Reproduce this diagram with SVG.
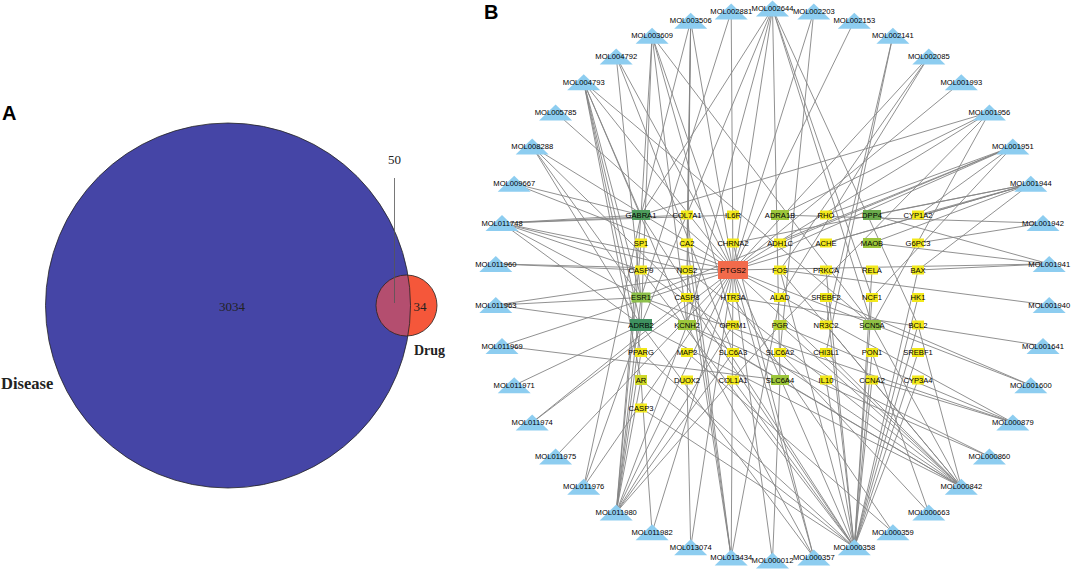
<svg xmlns="http://www.w3.org/2000/svg" xmlns:xlink="http://www.w3.org/1999/xlink" width="1072" height="570" viewBox="0 0 1072 570">
<style>
.lbl{font-family:"Liberation Sans",Arial,sans-serif;font-size:7.6px;fill:#000;text-anchor:middle}
.edges line{stroke:#858585;stroke-width:0.9}
.y{fill:#F2E81C}
.yg{fill:#9CC63C}
.dg{fill:#4E9C5C}
.tm{font-family:"Liberation Serif","Times New Roman",serif;fill:#222}
.pl{font-family:"Liberation Sans",Arial,sans-serif;font-weight:bold;font-size:20px;fill:#000}
</style>
<defs>
<path id="tri" d="M0 -8L16.5 8H-16.5Z" fill="#8DCDF0"/>
<clipPath id="bigc"><circle cx="228" cy="305.5" r="182.5"/></clipPath>
</defs>
<rect width="1072" height="570" fill="#fff"/>

<!-- Panel A -->
<g id="panelA">
<text class="pl" x="2" y="120">A</text>
<g id="disease"><circle cx="228" cy="305.5" r="182.5" fill="#4545A6"/></g>
<g id="drug">
<circle cx="406.5" cy="305.5" r="30.5" fill="#F5573A"/>
<circle cx="406.5" cy="305.5" r="30.5" fill="#B44E6F" clip-path="url(#bigc)"/>
<circle cx="228" cy="305.5" r="182.5" fill="none" stroke="#222" stroke-width="0.8"/>
<circle cx="406.5" cy="305.5" r="30.5" fill="none" stroke="#222" stroke-width="0.8"/>
</g>
<line x1="394.5" y1="178" x2="394.5" y2="303" stroke="#555" stroke-width="0.8"/>
<text class="tm" x="394.5" y="164" font-size="13" text-anchor="middle">50</text>
<text class="tm" x="232" y="311" font-size="13" text-anchor="middle">3034</text>
<text class="tm" x="420" y="311" font-size="13" text-anchor="middle">34</text>
<text class="tm" x="414" y="355" font-size="14" font-weight="bold">Drug</text>
<text class="tm" x="1" y="389" font-size="16.5" font-weight="bold">Disease</text>
</g>

<!-- Panel B -->
<text class="pl" x="484" y="19">B</text>
<g class="edges" id="edges">
<line x1="772.5" y1="8.5" x2="641" y2="215"/>
<line x1="772.5" y1="8.5" x2="641" y2="325"/>
<line x1="772.5" y1="8.5" x2="687" y2="325"/>
<line x1="772.5" y1="8.5" x2="733" y2="270"/>
<line x1="772.5" y1="8.5" x2="780" y2="380"/>
<line x1="772.5" y1="8.5" x2="872" y2="325"/>
<line x1="772.5" y1="8.5" x2="872" y2="297.5"/>
<line x1="772.5" y1="8.5" x2="918" y2="325"/>
<line x1="813.8" y1="11.6" x2="733" y2="270"/>
<line x1="813.8" y1="11.6" x2="780" y2="352.5"/>
<line x1="854.3" y1="20.8" x2="733" y2="270"/>
<line x1="892.9" y1="35.8" x2="826" y2="325"/>
<line x1="892.9" y1="35.8" x2="826" y2="352.5"/>
<line x1="928.8" y1="56.5" x2="733" y2="270"/>
<line x1="928.8" y1="56.5" x2="780" y2="270"/>
<line x1="928.8" y1="56.5" x2="780" y2="297.5"/>
<line x1="961.3" y1="82.2" x2="733" y2="270"/>
<line x1="989.4" y1="112.4" x2="733" y2="270"/>
<line x1="989.4" y1="112.4" x2="641" y2="215"/>
<line x1="989.4" y1="112.4" x2="780" y2="215"/>
<line x1="989.4" y1="112.4" x2="780" y2="325"/>
<line x1="989.4" y1="112.4" x2="872" y2="325"/>
<line x1="1012.8" y1="146.5" x2="733" y2="270"/>
<line x1="1012.8" y1="146.5" x2="826" y2="215"/>
<line x1="1012.8" y1="146.5" x2="780" y2="243"/>
<line x1="1012.8" y1="146.5" x2="641" y2="297.5"/>
<line x1="1012.8" y1="146.5" x2="872" y2="297.5"/>
<line x1="1012.8" y1="146.5" x2="918" y2="215"/>
<line x1="1030.8" y1="183.7" x2="733" y2="270"/>
<line x1="1030.8" y1="183.7" x2="872" y2="215"/>
<line x1="1030.8" y1="183.7" x2="872" y2="243"/>
<line x1="1030.8" y1="183.7" x2="733" y2="243"/>
<line x1="1030.8" y1="183.7" x2="826" y2="243"/>
<line x1="1030.8" y1="183.7" x2="918" y2="270"/>
<line x1="1030.8" y1="183.7" x2="918" y2="215"/>
<line x1="1043" y1="223.1" x2="918" y2="243"/>
<line x1="1043" y1="223.1" x2="780" y2="215"/>
<line x1="1049.2" y1="263.9" x2="872" y2="243"/>
<line x1="1049.2" y1="263.9" x2="872" y2="215"/>
<line x1="1049.2" y1="263.9" x2="918" y2="270"/>
<line x1="1049.2" y1="263.9" x2="733" y2="270"/>
<line x1="1049.2" y1="305.1" x2="780" y2="270"/>
<line x1="1043" y1="345.9" x2="733" y2="297.5"/>
<line x1="1030.8" y1="385.3" x2="733" y2="270"/>
<line x1="1030.8" y1="385.3" x2="826" y2="297.5"/>
<line x1="1012.8" y1="422.5" x2="733" y2="270"/>
<line x1="1012.8" y1="422.5" x2="641" y2="297.5"/>
<line x1="1012.8" y1="422.5" x2="780" y2="325"/>
<line x1="1012.8" y1="422.5" x2="872" y2="380"/>
<line x1="989.4" y1="456.6" x2="687" y2="325"/>
<line x1="989.4" y1="456.6" x2="780" y2="352.5"/>
<line x1="961.3" y1="486.8" x2="733" y2="270"/>
<line x1="961.3" y1="486.8" x2="641" y2="297.5"/>
<line x1="961.3" y1="486.8" x2="641" y2="325"/>
<line x1="961.3" y1="486.8" x2="687" y2="270"/>
<line x1="961.3" y1="486.8" x2="780" y2="270"/>
<line x1="961.3" y1="486.8" x2="780" y2="325"/>
<line x1="961.3" y1="486.8" x2="733" y2="352.5"/>
<line x1="961.3" y1="486.8" x2="826" y2="325"/>
<line x1="961.3" y1="486.8" x2="826" y2="352.5"/>
<line x1="961.3" y1="486.8" x2="918" y2="325"/>
<line x1="961.3" y1="486.8" x2="872" y2="325"/>
<line x1="961.3" y1="486.8" x2="641" y2="270"/>
<line x1="928.8" y1="512.5" x2="780" y2="352.5"/>
<line x1="928.8" y1="512.5" x2="872" y2="352.5"/>
<line x1="892.9" y1="532.2" x2="687" y2="352.5"/>
<line x1="892.9" y1="532.2" x2="733" y2="297.5"/>
<line x1="854.3" y1="547.2" x2="733" y2="270"/>
<line x1="854.3" y1="547.2" x2="641" y2="215"/>
<line x1="854.3" y1="547.2" x2="641" y2="408"/>
<line x1="854.3" y1="547.2" x2="641" y2="380"/>
<line x1="854.3" y1="547.2" x2="641" y2="352.5"/>
<line x1="854.3" y1="547.2" x2="918" y2="270"/>
<line x1="854.3" y1="547.2" x2="918" y2="325"/>
<line x1="854.3" y1="547.2" x2="687" y2="297.5"/>
<line x1="854.3" y1="547.2" x2="641" y2="270"/>
<line x1="854.3" y1="547.2" x2="780" y2="270"/>
<line x1="854.3" y1="547.2" x2="872" y2="270"/>
<line x1="854.3" y1="547.2" x2="826" y2="270"/>
<line x1="854.3" y1="547.2" x2="826" y2="380"/>
<line x1="854.3" y1="547.2" x2="872" y2="380"/>
<line x1="854.3" y1="547.2" x2="918" y2="352.5"/>
<line x1="854.3" y1="547.2" x2="826" y2="297.5"/>
<line x1="854.3" y1="547.2" x2="872" y2="297.5"/>
<line x1="854.3" y1="547.2" x2="918" y2="297.5"/>
<line x1="854.3" y1="547.2" x2="918" y2="380"/>
<line x1="854.3" y1="547.2" x2="872" y2="352.5"/>
<line x1="854.3" y1="547.2" x2="733" y2="380"/>
<line x1="813.8" y1="557.4" x2="733" y2="270"/>
<line x1="813.8" y1="557.4" x2="641" y2="325"/>
<line x1="813.8" y1="557.4" x2="687" y2="325"/>
<line x1="813.8" y1="557.4" x2="733" y2="243"/>
<line x1="772.5" y1="560.5" x2="733" y2="270"/>
<line x1="772.5" y1="560.5" x2="780" y2="380"/>
<line x1="731.2" y1="557.4" x2="733" y2="270"/>
<line x1="731.2" y1="557.4" x2="687" y2="270"/>
<line x1="731.2" y1="557.4" x2="687" y2="215"/>
<line x1="731.2" y1="557.4" x2="780" y2="297.5"/>
<line x1="731.2" y1="557.4" x2="687" y2="243"/>
<line x1="690.7" y1="547.2" x2="733" y2="270"/>
<line x1="690.7" y1="547.2" x2="687" y2="380"/>
<line x1="652.1" y1="532.2" x2="641" y2="380"/>
<line x1="652.1" y1="532.2" x2="733" y2="270"/>
<line x1="616.2" y1="512.5" x2="733" y2="270"/>
<line x1="616.2" y1="512.5" x2="641" y2="325"/>
<line x1="616.2" y1="512.5" x2="641" y2="297.5"/>
<line x1="616.2" y1="512.5" x2="641" y2="215"/>
<line x1="616.2" y1="512.5" x2="641" y2="380"/>
<line x1="616.2" y1="512.5" x2="641" y2="352.5"/>
<line x1="616.2" y1="512.5" x2="733" y2="352.5"/>
<line x1="616.2" y1="512.5" x2="641" y2="243"/>
<line x1="616.2" y1="512.5" x2="687" y2="325"/>
<line x1="616.2" y1="512.5" x2="733" y2="325"/>
<line x1="616.2" y1="512.5" x2="780" y2="325"/>
<line x1="583.7" y1="486.8" x2="641" y2="325"/>
<line x1="583.7" y1="486.8" x2="641" y2="215"/>
<line x1="583.7" y1="486.8" x2="733" y2="270"/>
<line x1="555.6" y1="456.6" x2="733" y2="270"/>
<line x1="532.2" y1="422.5" x2="733" y2="270"/>
<line x1="532.2" y1="422.5" x2="687" y2="297.5"/>
<line x1="514.2" y1="385.3" x2="641" y2="325"/>
<line x1="502" y1="345.9" x2="733" y2="270"/>
<line x1="502" y1="345.9" x2="780" y2="380"/>
<line x1="495.8" y1="305.1" x2="641" y2="297.5"/>
<line x1="495.8" y1="305.1" x2="641" y2="325"/>
<line x1="495.8" y1="305.1" x2="733" y2="270"/>
<line x1="495.8" y1="263.9" x2="641" y2="270"/>
<line x1="495.8" y1="263.9" x2="733" y2="270"/>
<line x1="502" y1="223.1" x2="641" y2="215"/>
<line x1="502" y1="223.1" x2="687" y2="215"/>
<line x1="502" y1="223.1" x2="641" y2="270"/>
<line x1="502" y1="223.1" x2="641" y2="297.5"/>
<line x1="502" y1="223.1" x2="641" y2="325"/>
<line x1="502" y1="223.1" x2="687" y2="270"/>
<line x1="502" y1="223.1" x2="733" y2="270"/>
<line x1="502" y1="223.1" x2="733" y2="215"/>
<line x1="514.2" y1="183.7" x2="641" y2="215"/>
<line x1="514.2" y1="183.7" x2="733" y2="270"/>
<line x1="532.2" y1="146.5" x2="641" y2="297.5"/>
<line x1="532.2" y1="146.5" x2="641" y2="325"/>
<line x1="532.2" y1="146.5" x2="733" y2="270"/>
<line x1="532.2" y1="146.5" x2="687" y2="297.5"/>
<line x1="555.6" y1="112.4" x2="733" y2="270"/>
<line x1="583.7" y1="82.2" x2="733" y2="270"/>
<line x1="583.7" y1="82.2" x2="641" y2="325"/>
<line x1="583.7" y1="82.2" x2="641" y2="297.5"/>
<line x1="583.7" y1="82.2" x2="641" y2="215"/>
<line x1="583.7" y1="82.2" x2="641" y2="352.5"/>
<line x1="583.7" y1="82.2" x2="641" y2="380"/>
<line x1="583.7" y1="82.2" x2="687" y2="325"/>
<line x1="583.7" y1="82.2" x2="872" y2="325"/>
<line x1="616.2" y1="56.5" x2="641" y2="297.5"/>
<line x1="616.2" y1="56.5" x2="733" y2="270"/>
<line x1="616.2" y1="56.5" x2="733" y2="352.5"/>
<line x1="652.1" y1="35.8" x2="641" y2="215"/>
<line x1="652.1" y1="35.8" x2="641" y2="325"/>
<line x1="652.1" y1="35.8" x2="733" y2="270"/>
<line x1="652.1" y1="35.8" x2="687" y2="325"/>
<line x1="652.1" y1="35.8" x2="872" y2="325"/>
<line x1="652.1" y1="35.8" x2="733" y2="325"/>
<line x1="690.7" y1="20.8" x2="733" y2="270"/>
<line x1="690.7" y1="20.8" x2="687" y2="270"/>
<line x1="690.7" y1="20.8" x2="687" y2="325"/>
<line x1="690.7" y1="20.8" x2="641" y2="215"/>
<line x1="690.7" y1="20.8" x2="687" y2="243"/>
<line x1="731.2" y1="11.6" x2="733" y2="270"/>
<line x1="731.2" y1="11.6" x2="641" y2="297.5"/>
</g>

<g id="molecules">
<g id="MOL002644" transform="translate(772.5,8.5)"><use href="#tri"/><text class="lbl" y="2.6">MOL002644</text></g>
<g id="MOL002203" transform="translate(813.8,11.6)"><use href="#tri"/><text class="lbl" y="2.6">MOL002203</text></g>
<g id="MOL002153" transform="translate(854.3,20.8)"><use href="#tri"/><text class="lbl" y="2.6">MOL002153</text></g>
<g id="MOL002141" transform="translate(892.9,35.8)"><use href="#tri"/><text class="lbl" y="2.6">MOL002141</text></g>
<g id="MOL002085" transform="translate(928.8,56.5)"><use href="#tri"/><text class="lbl" y="2.6">MOL002085</text></g>
<g id="MOL001993" transform="translate(961.3,82.2)"><use href="#tri"/><text class="lbl" y="2.6">MOL001993</text></g>
<g id="MOL001956" transform="translate(989.4,112.4)"><use href="#tri"/><text class="lbl" y="2.6">MOL001956</text></g>
<g id="MOL001951" transform="translate(1012.8,146.5)"><use href="#tri"/><text class="lbl" y="2.6">MOL001951</text></g>
<g id="MOL001944" transform="translate(1030.8,183.7)"><use href="#tri"/><text class="lbl" y="2.6">MOL001944</text></g>
<g id="MOL001942" transform="translate(1043,223.1)"><use href="#tri"/><text class="lbl" y="2.6">MOL001942</text></g>
<g id="MOL001941" transform="translate(1049.2,263.9)"><use href="#tri"/><text class="lbl" y="2.6">MOL001941</text></g>
<g id="MOL001940" transform="translate(1049.2,305.1)"><use href="#tri"/><text class="lbl" y="2.6">MOL001940</text></g>
<g id="MOL001641" transform="translate(1043,345.9)"><use href="#tri"/><text class="lbl" y="2.6">MOL001641</text></g>
<g id="MOL001600" transform="translate(1030.8,385.3)"><use href="#tri"/><text class="lbl" y="2.6">MOL001600</text></g>
<g id="MOL000879" transform="translate(1012.8,422.5)"><use href="#tri"/><text class="lbl" y="2.6">MOL000879</text></g>
<g id="MOL000860" transform="translate(989.4,456.6)"><use href="#tri"/><text class="lbl" y="2.6">MOL000860</text></g>
<g id="MOL000842" transform="translate(961.3,486.8)"><use href="#tri"/><text class="lbl" y="2.6">MOL000842</text></g>
<g id="MOL000663" transform="translate(928.8,512.5)"><use href="#tri"/><text class="lbl" y="2.6">MOL000663</text></g>
<g id="MOL000359" transform="translate(892.9,532.2)"><use href="#tri"/><text class="lbl" y="2.6">MOL000359</text></g>
<g id="MOL000358" transform="translate(854.3,547.2)"><use href="#tri"/><text class="lbl" y="2.6">MOL000358</text></g>
<g id="MOL000357" transform="translate(813.8,557.4)"><use href="#tri"/><text class="lbl" y="2.6">MOL000357</text></g>
<g id="MOL000012" transform="translate(772.5,560.5)"><use href="#tri"/><text class="lbl" y="2.6">MOL000012</text></g>
<g id="MOL013434" transform="translate(731.2,557.4)"><use href="#tri"/><text class="lbl" y="2.6">MOL013434</text></g>
<g id="MOL013074" transform="translate(690.7,547.2)"><use href="#tri"/><text class="lbl" y="2.6">MOL013074</text></g>
<g id="MOL011982" transform="translate(652.1,532.2)"><use href="#tri"/><text class="lbl" y="2.6">MOL011982</text></g>
<g id="MOL011980" transform="translate(616.2,512.5)"><use href="#tri"/><text class="lbl" y="2.6">MOL011980</text></g>
<g id="MOL011976" transform="translate(583.7,486.8)"><use href="#tri"/><text class="lbl" y="2.6">MOL011976</text></g>
<g id="MOL011975" transform="translate(555.6,456.6)"><use href="#tri"/><text class="lbl" y="2.6">MOL011975</text></g>
<g id="MOL011974" transform="translate(532.2,422.5)"><use href="#tri"/><text class="lbl" y="2.6">MOL011974</text></g>
<g id="MOL011971" transform="translate(514.2,385.3)"><use href="#tri"/><text class="lbl" y="2.6">MOL011971</text></g>
<g id="MOL011969" transform="translate(502,345.9)"><use href="#tri"/><text class="lbl" y="2.6">MOL011969</text></g>
<g id="MOL011963" transform="translate(495.8,305.1)"><use href="#tri"/><text class="lbl" y="2.6">MOL011963</text></g>
<g id="MOL011960" transform="translate(495.8,263.9)"><use href="#tri"/><text class="lbl" y="2.6">MOL011960</text></g>
<g id="MOL011748" transform="translate(502,223.1)"><use href="#tri"/><text class="lbl" y="2.6">MOL011748</text></g>
<g id="MOL009667" transform="translate(514.2,183.7)"><use href="#tri"/><text class="lbl" y="2.6">MOL009667</text></g>
<g id="MOL008288" transform="translate(532.2,146.5)"><use href="#tri"/><text class="lbl" y="2.6">MOL008288</text></g>
<g id="MOL005785" transform="translate(555.6,112.4)"><use href="#tri"/><text class="lbl" y="2.6">MOL005785</text></g>
<g id="MOL004793" transform="translate(583.7,82.2)"><use href="#tri"/><text class="lbl" y="2.6">MOL004793</text></g>
<g id="MOL004792" transform="translate(616.2,56.5)"><use href="#tri"/><text class="lbl" y="2.6">MOL004792</text></g>
<g id="MOL003609" transform="translate(652.1,35.8)"><use href="#tri"/><text class="lbl" y="2.6">MOL003609</text></g>
<g id="MOL003506" transform="translate(690.7,20.8)"><use href="#tri"/><text class="lbl" y="2.6">MOL003506</text></g>
<g id="MOL002881" transform="translate(731.2,11.6)"><use href="#tri"/><text class="lbl" y="2.6">MOL002881</text></g>
</g>

<g id="targets">
<g id="GABRA1" transform="translate(641,215)"><rect class="dg" x="-9" y="-5" width="18" height="10"/><text class="lbl" y="2.6">GABRA1</text></g>
<g id="COL7A1" transform="translate(687,215)"><rect class="y" x="-6" y="-4.5" width="12" height="9"/><text class="lbl" y="2.6">COL7A1</text></g>
<g id="IL6R" transform="translate(733,215)"><rect class="y" x="-6" y="-4.5" width="12" height="9"/><text class="lbl" y="2.6">IL6R</text></g>
<g id="ADRA1B" transform="translate(780,215)"><rect class="yg" x="-9" y="-5" width="18" height="10"/><text class="lbl" y="2.6">ADRA1B</text></g>
<g id="RHO" transform="translate(826,215)"><rect class="y" x="-6" y="-4.5" width="12" height="9"/><text class="lbl" y="2.6">RHO</text></g>
<g id="DPP4" transform="translate(872,215)"><rect fill="#6AAA4C" x="-9" y="-5" width="18" height="10"/><text class="lbl" y="2.6">DPP4</text></g>
<g id="CYP1A2" transform="translate(918,215)"><rect class="y" x="-6" y="-4.5" width="12" height="9"/><text class="lbl" y="2.6">CYP1A2</text></g>

<g id="SP1" transform="translate(641,243)"><rect class="y" x="-6" y="-4.5" width="12" height="9"/><text class="lbl" y="2.6">SP1</text></g>
<g id="CA2" transform="translate(687,243)"><rect class="y" x="-6" y="-4.5" width="12" height="9"/><text class="lbl" y="2.6">CA2</text></g>
<g id="CHRNA2" transform="translate(733,243)"><rect class="y" x="-6" y="-4.5" width="12" height="9"/><text class="lbl" y="2.6">CHRNA2</text></g>
<g id="ADH1C" transform="translate(780,243)"><rect class="y" x="-6" y="-4.5" width="12" height="9"/><text class="lbl" y="2.6">ADH1C</text></g>
<g id="ACHE" transform="translate(826,243)"><rect class="y" x="-6" y="-4.5" width="12" height="9"/><text class="lbl" y="2.6">ACHE</text></g>
<g id="MAOB" transform="translate(872,243)"><rect class="yg" x="-9" y="-5" width="18" height="10"/><text class="lbl" y="2.6">MAOB</text></g>
<g id="G6PC3" transform="translate(918,243)"><rect class="y" x="-6" y="-4.5" width="12" height="9"/><text class="lbl" y="2.6">G6PC3</text></g>

<g id="CASP9" transform="translate(641,270)"><rect class="y" x="-6" y="-4.5" width="12" height="9"/><text class="lbl" y="2.6">CASP9</text></g>
<g id="NOS2" transform="translate(687,270)"><rect class="y" x="-6" y="-4.5" width="12" height="9"/><text class="lbl" y="2.6">NOS2</text></g>
<g id="PTGS2" transform="translate(733,270)"><rect fill="#F26A4B" x="-15" y="-9" width="30" height="18"/><text class="lbl" y="2.7" style="font-size:7.9px">PTGS2</text></g>
<g id="FOS" transform="translate(780,270)"><rect class="y" x="-6" y="-4.5" width="12" height="9"/><text class="lbl" y="2.6">FOS</text></g>
<g id="PRKCA" transform="translate(826,270)"><rect class="y" x="-6" y="-4.5" width="12" height="9"/><text class="lbl" y="2.6">PRKCA</text></g>
<g id="RELA" transform="translate(872,270)"><rect class="y" x="-6" y="-4.5" width="12" height="9"/><text class="lbl" y="2.6">RELA</text></g>
<g id="BAX" transform="translate(918,270)"><rect class="y" x="-6" y="-4.5" width="12" height="9"/><text class="lbl" y="2.6">BAX</text></g>

<g id="ESR1" transform="translate(641,297.5)"><rect fill="#8DC04A" x="-9.5" y="-5" width="19" height="10"/><text class="lbl" y="2.6">ESR1</text></g>
<g id="CASP8" transform="translate(687,297.5)"><rect class="y" x="-6" y="-4.5" width="12" height="9"/><text class="lbl" y="2.6">CASP8</text></g>
<g id="HTR3A" transform="translate(733,297.5)"><rect class="y" x="-6" y="-4.5" width="12" height="9"/><text class="lbl" y="2.6">HTR3A</text></g>
<g id="ALAD" transform="translate(780,297.5)"><rect class="y" x="-6" y="-4.5" width="12" height="9"/><text class="lbl" y="2.6">ALAD</text></g>
<g id="SREBF2" transform="translate(826,297.5)"><rect class="y" x="-6" y="-4.5" width="12" height="9"/><text class="lbl" y="2.6">SREBF2</text></g>
<g id="NCF1" transform="translate(872,297.5)"><rect class="y" x="-6" y="-4.5" width="12" height="9"/><text class="lbl" y="2.6">NCF1</text></g>
<g id="HK1" transform="translate(918,297.5)"><rect class="y" x="-6" y="-4.5" width="12" height="9"/><text class="lbl" y="2.6">HK1</text></g>

<g id="ADRB2" transform="translate(641,325)"><rect fill="#3F9160" x="-11" y="-6" width="22" height="12"/><text class="lbl" y="2.6">ADRB2</text></g>
<g id="KCNH2" transform="translate(687,325)"><rect class="yg" x="-9" y="-5" width="18" height="10"/><text class="lbl" y="2.6">KCNH2</text></g>
<g id="OPRM1" transform="translate(733,325)"><rect class="y" x="-6" y="-4.5" width="12" height="9"/><text class="lbl" y="2.6">OPRM1</text></g>
<g id="PGR" transform="translate(780,325)"><rect fill="#B8D02E" x="-6.5" y="-5" width="13" height="10"/><text class="lbl" y="2.6">PGR</text></g>
<g id="NR3C2" transform="translate(826,325)"><rect class="y" x="-6" y="-4.5" width="12" height="9"/><text class="lbl" y="2.6">NR3C2</text></g>
<g id="SCN5A" transform="translate(872,325)"><rect fill="#8EBE45" x="-9" y="-5" width="18" height="10"/><text class="lbl" y="2.6">SCN5A</text></g>
<g id="BCL2" transform="translate(918,325)"><rect class="y" x="-6" y="-4.5" width="12" height="9"/><text class="lbl" y="2.6">BCL2</text></g>

<g id="PPARG" transform="translate(641,352.5)"><rect class="y" x="-6" y="-4.5" width="12" height="9"/><text class="lbl" y="2.6">PPARG</text></g>
<g id="MAP2" transform="translate(687,352.5)"><rect class="y" x="-6" y="-4.5" width="12" height="9"/><text class="lbl" y="2.6">MAP2</text></g>
<g id="SLC6A3" transform="translate(733,352.5)"><rect class="y" x="-6" y="-4.5" width="12" height="9"/><text class="lbl" y="2.6">SLC6A3</text></g>
<g id="SLC6A2" transform="translate(780,352.5)"><rect class="y" x="-6" y="-4.5" width="12" height="9"/><text class="lbl" y="2.6">SLC6A2</text></g>
<g id="CHI3L1" transform="translate(826,352.5)"><rect class="y" x="-6" y="-4.5" width="12" height="9"/><text class="lbl" y="2.6">CHI3L1</text></g>
<g id="PON1" transform="translate(872,352.5)"><rect class="y" x="-6" y="-4.5" width="12" height="9"/><text class="lbl" y="2.6">PON1</text></g>
<g id="SREBF1" transform="translate(918,352.5)"><rect class="y" x="-6" y="-4.5" width="12" height="9"/><text class="lbl" y="2.6">SREBF1</text></g>

<g id="AR" transform="translate(641,380)"><rect fill="#CFD82A" x="-6" y="-5" width="12" height="10"/><text class="lbl" y="2.6">AR</text></g>
<g id="DUOX2" transform="translate(687,380)"><rect class="y" x="-6" y="-4.5" width="12" height="9"/><text class="lbl" y="2.6">DUOX2</text></g>
<g id="COL1A1" transform="translate(733,380)"><rect class="y" x="-6" y="-4.5" width="12" height="9"/><text class="lbl" y="2.6">COL1A1</text></g>
<g id="SLC6A4" transform="translate(780,380)"><rect class="yg" x="-9" y="-5" width="18" height="10"/><text class="lbl" y="2.6">SLC6A4</text></g>
<g id="IL10" transform="translate(826,380)"><rect class="y" x="-6" y="-4.5" width="12" height="9"/><text class="lbl" y="2.6">IL10</text></g>
<g id="CCNA2" transform="translate(872,380)"><rect class="y" x="-6" y="-4.5" width="12" height="9"/><text class="lbl" y="2.6">CCNA2</text></g>
<g id="CYP3A4" transform="translate(918,380)"><rect class="y" x="-6" y="-4.5" width="12" height="9"/><text class="lbl" y="2.6">CYP3A4</text></g>

<g id="CASP3" transform="translate(641,408)"><rect class="y" x="-6" y="-4.5" width="12" height="9"/><text class="lbl" y="2.6">CASP3</text></g>
</g>
</svg>
